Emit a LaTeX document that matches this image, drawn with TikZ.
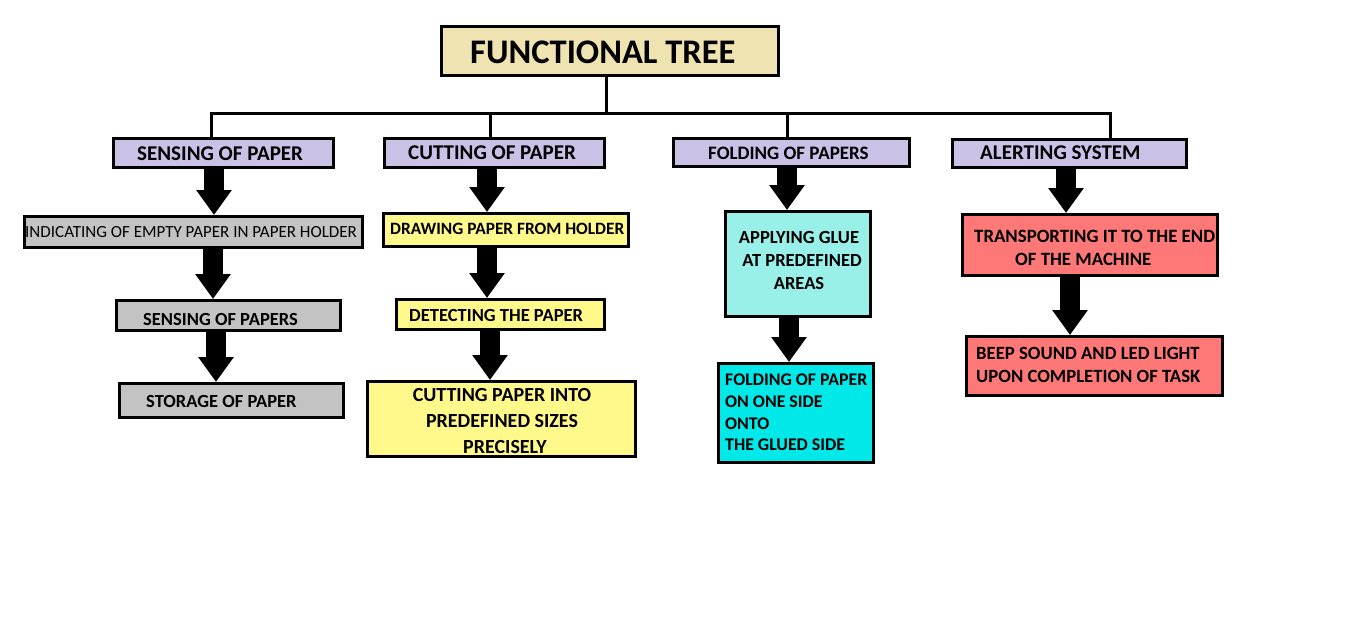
\documentclass[tikz,border=0pt]{standalone}
\usepackage{fontspec}
\setmainfont{Carlito}
\usetikzlibrary{arrows.meta}
\definecolor{titlefill}{HTML}{EFE3B2}
\definecolor{lav}{HTML}{C9C2E6}
\definecolor{grayfill}{HTML}{C3C3C3}
\definecolor{yel}{HTML}{FFF98C}
\definecolor{aqua}{HTML}{98F0E8}
\definecolor{cyanf}{HTML}{00E8E8}
\definecolor{redf}{HTML}{FF7878}
\begin{document}
\begin{tikzpicture}[x=1pt,y=-1pt,
 box/.style={draw=black, line width=3pt, inner sep=0pt},
 txt/.style={anchor=west, inner sep=0pt, font=\bfseries\fontsize{18.5}{23}\selectfont},
 htxt/.style={txt, font=\bfseries\fontsize{21}{24}\selectfont},
 conn/.style={line width=3pt},
 blk/.style={line width=20pt, -{Triangle[width=34pt,length=25pt]}}]
\fill[white] (0,0) rectangle (1360,623);
\useasboundingbox (0,0) rectangle (1360,623);

% boxes
\node[box, fill=titlefill, minimum width=337pt, minimum height=49pt] (title) at (610,51) {};
\node[box, fill=lav, minimum width=220pt, minimum height=29pt] (h1) at (223.5,153) {};
\node[box, fill=lav, minimum width=220pt, minimum height=29pt] (h2) at (494.5,153) {};
\node[box, fill=lav, minimum width=236pt, minimum height=28pt] (h3) at (791.5,152.5) {};
\node[box, fill=lav, minimum width=234pt, minimum height=28pt] (h4) at (1069.5,153.5) {};

\node[box, fill=grayfill, minimum width=338pt, minimum height=31pt] (a1) at (193.5,232) {};
\node[box, fill=grayfill, minimum width=224pt, minimum height=30pt] (a2) at (228.5,315.5) {};
\node[box, fill=grayfill, minimum width=224pt, minimum height=34pt] (a3) at (231.5,400.5) {};

\node[box, fill=yel, minimum width=245pt, minimum height=33pt] (b1) at (506,230) {};
\node[box, fill=yel, minimum width=208pt, minimum height=30pt] (b2) at (500.5,314.5) {};
\node[box, fill=yel, minimum width=268pt, minimum height=75pt] (b3) at (501.5,419) {};

\node[box, fill=aqua, minimum width=145pt, minimum height=105pt] (c1) at (798,264) {};
\node[box, fill=cyanf, minimum width=155pt, minimum height=99pt] (c2) at (796,413) {};

\node[box, fill=redf, minimum width=255pt, minimum height=61pt] (d1) at (1090,245) {};
\node[box, fill=redf, minimum width=256pt, minimum height=59pt] (d2) at (1094.5,366) {};

% texts
\node[txt, font=\bfseries\fontsize{34.5}{40}\selectfont] (ttitle) at (470,52) {FUNCTIONAL TREE};
\node[htxt] (th1) at (137,154) {SENSING OF PAPER};
\node[htxt] (th2) at (408,153) {CUTTING OF PAPER};
\node[txt, font=\bfseries\fontsize{19}{23}\selectfont] (th3) at (708,153) {FOLDING OF PAPERS};
\node[htxt] (th4) at (980,153) {ALERTING SYSTEM};

\node[txt, font=\fontsize{17}{20}\selectfont] (ta1) at (25,232) {INDICATING OF EMPTY PAPER IN PAPER HOLDER};
\node[txt] (ta2) at (143,319) {SENSING OF PAPERS};
\node[txt] (ta3) at (146,401) {STORAGE OF PAPER};

\node[txt, font=\bfseries\fontsize{17.3}{21}\selectfont] (tb1) at (390,229) {DRAWING PAPER FROM HOLDER};
\node[txt] (tb2) at (409,315) {DETECTING THE PAPER};
\node[txt, anchor=center, align=center, font=\bfseries\fontsize{20}{26}\selectfont] (tb3) at (502,421) {CUTTING PAPER INTO\\PREDEFINED SIZES\\\hspace*{6pt}PRECISELY};

\node[txt, anchor=center, align=center, font=\bfseries\fontsize{18.5}{23}\selectfont] (tc1) at (799,260) {APPLYING GLUE\\\hspace*{6pt}AT PREDEFINED\\AREAS};
\node[txt, align=left, font=\bfseries\fontsize{17.8}{21.7}\selectfont] (tc2) at (725,412.5) {FOLDING OF PAPER\\ON ONE SIDE\\ONTO\\THE GLUED SIDE};

\node[txt, align=left, font=\bfseries\fontsize{18.8}{23}\selectfont] (td1) at (974,247.5) {TRANSPORTING IT TO THE END\\\hspace*{41pt}OF THE MACHINE};
\node[txt, align=left, font=\bfseries\fontsize{18.7}{23}\selectfont] (td2) at (976,364.5) {BEEP SOUND AND LED LIGHT\\UPON COMPLETION OF TASK};

% tree lines
\coordinate (bus) at (606,114);
\draw[conn] ([xshift=-4pt]title.south) -- (bus);
\draw[conn] (bus) -| ([xshift=-12.5pt]h1.north);
\draw[conn] (bus) -| ([xshift=-4.5pt]h2.north);
\draw[conn] (bus) -| ([xshift=-4.5pt]h3.north);
\draw[conn] (bus) -| ([xshift=40.5pt]h4.north);

% block arrows
\coordinate (x1a) at (214,0);
\coordinate (x1b) at (213,0);
\coordinate (x1c) at (216,0);
\coordinate (x2a) at (487,0);
\coordinate (x2b) at (487,0);
\coordinate (x2c) at (490,0);
\coordinate (x3a) at (787,0);
\coordinate (x3b) at (789,0);
\coordinate (x4a) at (1066,0);
\coordinate (x4b) at (1070,0);
\draw[blk] (h1.south -| x1a) -- (a1.north -| x1a);
\draw[blk] (a1.south -| x1b) -- (a2.north -| x1b);
\draw[blk] (a2.south -| x1c) -- (a3.north -| x1c);
\draw[blk] (h2.south -| x2a) -- (b1.north -| x2a);
\draw[blk] (b1.south -| x2b) -- (b2.north -| x2b);
\draw[blk] (b2.south -| x2c) -- (b3.north -| x2c);
\draw[blk] (h3.south -| x3a) -- (c1.north -| x3a);
\draw[blk] (c1.south -| x3b) -- (c2.north -| x3b);
\draw[blk] (h4.south -| x4a) -- (d1.north -| x4a);
\draw[blk] (d1.south -| x4b) -- (d2.north -| x4b);
\end{tikzpicture}
\end{document}
